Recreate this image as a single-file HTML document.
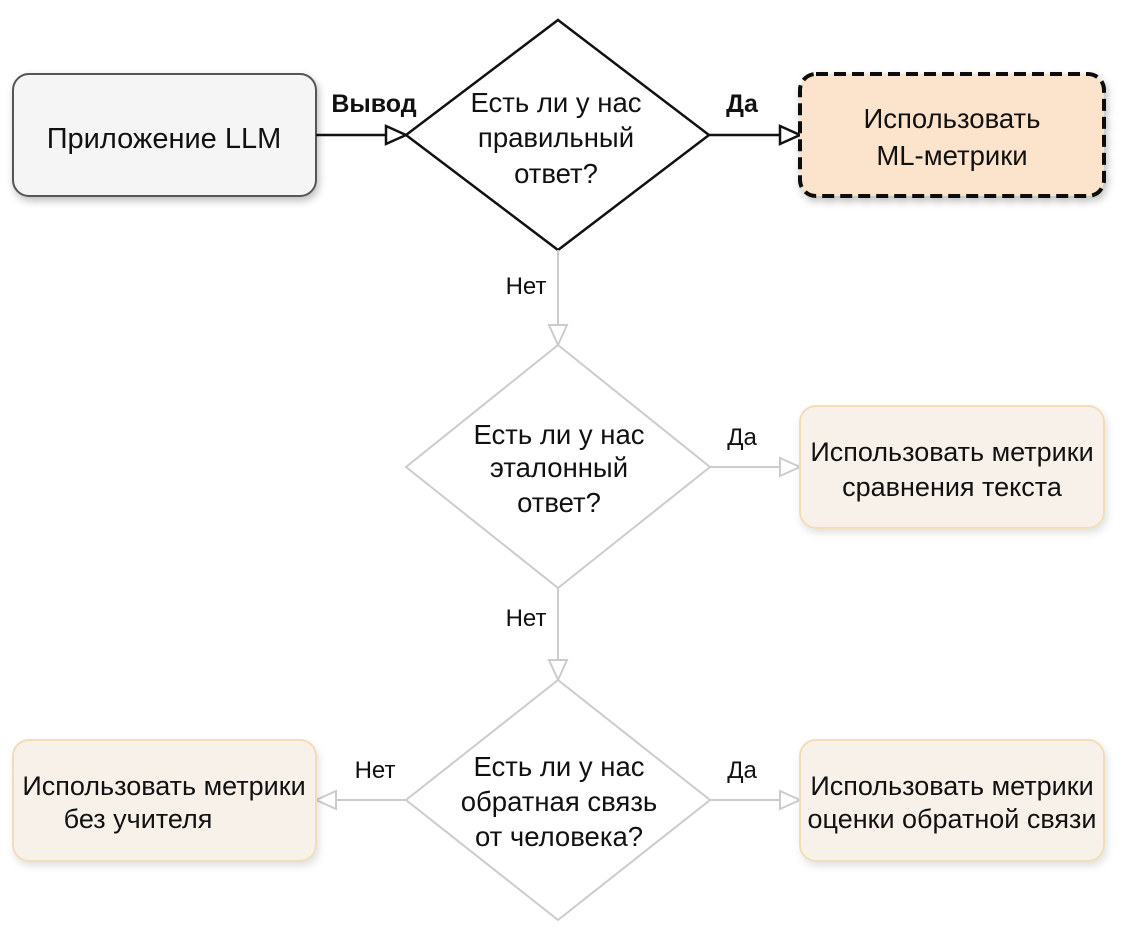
<!DOCTYPE html>
<html><head><meta charset="utf-8"><style>
body{margin:0;background:#fff;}
svg text{font-family:"Liberation Sans",sans-serif;}
</style></head><body>
<svg width="1126" height="944" viewBox="0 0 1126 944" xmlns="http://www.w3.org/2000/svg">
<defs>
<filter id="sh" x="-10%" y="-10%" width="130%" height="140%"><feDropShadow dx="2" dy="4" stdDeviation="4" flood-color="#000" flood-opacity="0.25"/></filter>
<filter id="sh2" x="-10%" y="-10%" width="130%" height="140%"><feDropShadow dx="2" dy="4" stdDeviation="4" flood-color="#000" flood-opacity="0.12"/></filter>
</defs>
<!-- row 1 -->
<rect x="13" y="74" width="303" height="122" rx="16" fill="#f5f5f5" stroke="#555" stroke-width="2" filter="url(#sh)"/>
<text x="164" y="148" font-size="29" text-anchor="middle" fill="#111">Приложение LLM</text>
<line x1="316" y1="135" x2="386" y2="135" stroke="#111" stroke-width="2.5"/>
<polygon points="386,126 406,135 386,144" fill="#fff" stroke="#111" stroke-width="2.5"/>
<text x="374" y="112" font-size="25" font-weight="bold" text-anchor="middle" fill="#111">Вывод</text>
<polygon points="558,20 709,135 558,250 406,135" fill="#fff" stroke="#111" stroke-width="2.5"/>
<text font-size="27.5" text-anchor="middle" fill="#111"><tspan x="556" y="112">Есть ли у нас</tspan><tspan x="556" y="147">правильный</tspan><tspan x="556" y="183">ответ?</tspan></text>
<line x1="709" y1="135" x2="780" y2="135" stroke="#111" stroke-width="2.5"/>
<polygon points="780,126 800,135 780,144" fill="#fff" stroke="#111" stroke-width="2.5"/>
<text x="742" y="112" font-size="25" font-weight="bold" text-anchor="middle" fill="#111">Да</text>
<rect x="800" y="74" width="304" height="122" rx="16" fill="#fbe3cc" stroke="#111" stroke-width="4" stroke-dasharray="12,6" filter="url(#sh)"/>
<text font-size="27.5" text-anchor="middle" fill="#111"><tspan x="952" y="128">Использовать</tspan><tspan x="952" y="165">ML-метрики</tspan></text>
<!-- row 2 -->
<line x1="558" y1="250" x2="558" y2="325" stroke="#ccc" stroke-width="2"/>
<polygon points="549,325 558,345 567,325" fill="#fff" stroke="#ccc" stroke-width="2"/>
<text x="526" y="294" font-size="24" text-anchor="middle" fill="#111">Нет</text>
<polygon points="558,345 710,467 558,588 406,467" fill="#fff" stroke="#ccc" stroke-width="2"/>
<text font-size="27.5" text-anchor="middle" fill="#111"><tspan x="559" y="444">Есть ли у нас</tspan><tspan x="559" y="477">эталонный</tspan><tspan x="559" y="512">ответ?</tspan></text>
<line x1="710" y1="467" x2="780" y2="467" stroke="#ccc" stroke-width="2"/>
<polygon points="780,458 800,467 780,476" fill="#fff" stroke="#ccc" stroke-width="2"/>
<text x="742" y="445" font-size="24" text-anchor="middle" fill="#111">Да</text>
<rect x="800" y="406" width="304" height="122" rx="16" fill="#f7f1ea" stroke="#f3ddb8" stroke-width="2" filter="url(#sh2)"/>
<text font-size="27" text-anchor="middle" fill="#111"><tspan x="952" y="461">Использовать метрики</tspan><tspan x="952" y="496">сравнения текста</tspan></text>
<!-- row 3 -->
<line x1="558" y1="588" x2="558" y2="660" stroke="#ccc" stroke-width="2"/>
<polygon points="549,660 558,680 567,660" fill="#fff" stroke="#ccc" stroke-width="2"/>
<text x="526" y="626" font-size="24" text-anchor="middle" fill="#111">Нет</text>
<polygon points="558,680 710,800 558,920 406,800" fill="#fff" stroke="#ccc" stroke-width="2"/>
<text font-size="27.5" text-anchor="middle" fill="#111"><tspan x="559" y="776">Есть ли у нас</tspan><tspan x="559" y="811">обратная связь</tspan><tspan x="559" y="846">от человека?</tspan></text>
<line x1="710" y1="800" x2="780" y2="800" stroke="#ccc" stroke-width="2"/>
<polygon points="780,791 800,800 780,809" fill="#fff" stroke="#ccc" stroke-width="2"/>
<text x="742" y="778" font-size="24" text-anchor="middle" fill="#111">Да</text>
<rect x="800" y="740" width="304" height="121" rx="16" fill="#f7f1ea" stroke="#f3ddb8" stroke-width="2" filter="url(#sh2)"/>
<text font-size="27" text-anchor="middle" fill="#111"><tspan x="952" y="795">Использовать метрики</tspan><tspan x="952" y="828">оценки обратной связи</tspan></text>
<line x1="406" y1="800" x2="336" y2="800" stroke="#ccc" stroke-width="2"/>
<polygon points="336,791 316,800 336,809" fill="#fff" stroke="#ccc" stroke-width="2"/>
<text x="375" y="778" font-size="24" text-anchor="middle" fill="#111">Нет</text>
<rect x="13" y="740" width="303" height="121" rx="16" fill="#f7f1ea" stroke="#f3ddb8" stroke-width="2" filter="url(#sh2)"/>
<text font-size="27" text-anchor="middle" fill="#111"><tspan x="164" y="795">Использовать метрики</tspan><tspan x="138" y="828">без учителя</tspan></text>
</svg>
</body></html>
